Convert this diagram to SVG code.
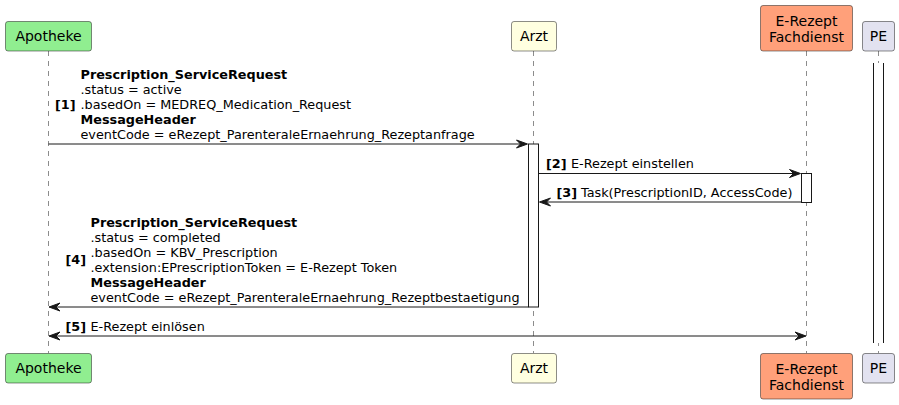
<svg xmlns="http://www.w3.org/2000/svg" width="899" height="405" viewBox="0 0 899 405">
<style>
.p{stroke:#181818;stroke-width:0.5}
.pt{font-family:"DejaVu Sans",sans-serif;font-size:14px;fill:#000;text-anchor:middle}
.t{font-family:"DejaVu Sans",sans-serif;font-size:12.8px;fill:#000}
.b{font-weight:bold}
.life{stroke:#181818;stroke-width:0.5;stroke-dasharray:5,5;fill:none}
.msg{stroke:#181818;stroke-width:1;fill:none}
.act{fill:#FFFFFF;stroke:#181818;stroke-width:1}
.ah{fill:#181818;stroke:#181818;stroke-width:1}
</style>
<rect width="899" height="405" fill="#FFFFFF"/>
<g id="lifelines">
<line class="life" x1="48.5" y1="51" x2="48.5" y2="353"/>
<line class="life" x1="533.5" y1="51" x2="533.5" y2="353"/>
<line class="life" x1="806.5" y1="51" x2="806.5" y2="353"/>
<line class="life" x1="878.5" y1="51" x2="878.5" y2="353"/>
</g>
<g id="Apotheke">
<rect class="p" x="5.5" y="21.5" width="86" height="29.5" rx="2.5" fill="#90EE90"/>
<text class="pt" x="48.5" y="41">Apotheke</text>
<rect class="p" x="5.5" y="353.5" width="86" height="29.5" rx="2.5" fill="#90EE90"/>
<text class="pt" x="48.5" y="373">Apotheke</text>
</g>
<g id="Arzt">
<rect class="p" x="511.5" y="21.5" width="45" height="29.5" rx="2.5" fill="#FFFFE0"/>
<text class="pt" x="534" y="41">Arzt</text>
<rect class="p" x="511.5" y="353.5" width="45" height="29.5" rx="2.5" fill="#FFFFE0"/>
<text class="pt" x="534" y="373">Arzt</text>
</g>
<g id="Fachdienst">
<rect class="p" x="760.5" y="5.5" width="92" height="45.5" rx="2.5" fill="#FFA07A"/>
<text class="pt" x="806.5" y="25.5">E-Rezept</text>
<text class="pt" x="806.5" y="41.5">Fachdienst</text>
<rect class="p" x="760.5" y="353.5" width="92" height="45.5" rx="2.5" fill="#FFA07A"/>
<text class="pt" x="806.5" y="373.5">E-Rezept</text>
<text class="pt" x="806.5" y="389.5">Fachdienst</text>
</g>
<g id="PE">
<rect class="p" x="862.5" y="21.5" width="32" height="29.5" rx="2.5" fill="#E2E2F0"/>
<text class="pt" x="878.5" y="41">PE</text>
<rect class="p" x="862.5" y="353.5" width="32" height="29.5" rx="2.5" fill="#E2E2F0"/>
<text class="pt" x="878.5" y="373">PE</text>
<rect x="873.5" y="63" width="10" height="280" fill="#FFFFFF"/>
<line class="msg" x1="873.5" y1="63" x2="873.5" y2="343"/>
<line class="msg" x1="883.5" y1="63" x2="883.5" y2="343"/>
</g>
<g id="activations">
<rect class="act" x="528.5" y="144" width="10" height="163"/>
<rect class="act" x="801.5" y="173.5" width="10" height="29"/>
</g>
<g id="connectors">
<line class="msg" x1="48.5" y1="144" x2="526" y2="144"/>
<polygon class="ah" points="516.5,140 527.5,144 516.5,148 520.5,144"/>
<line class="msg" x1="538.5" y1="173.5" x2="799" y2="173.5"/>
<polygon class="ah" points="789.5,169.5 800.5,173.5 789.5,177.5 793.5,173.5"/>
<line class="msg" x1="542" y1="202" x2="801.5" y2="202"/>
<polygon class="ah" points="550.5,198 539.5,202 550.5,206 546.5,202"/>
<line class="msg" x1="51" y1="307" x2="528.5" y2="307"/>
<polygon class="ah" points="60,303 49,307 60,311 56,307"/>
<line class="msg" x1="51" y1="336" x2="804" y2="336"/>
<polygon class="ah" points="60,332 49,336 60,340 56,336"/>
<polygon class="ah" points="795,332 806,336 795,340 799,336"/>
</g>
<g id="labels">
<text class="t b" x="55" y="109">[1]</text>
<text class="t b" x="80.5" y="79">Prescription_ServiceRequest</text>
<text class="t" x="80.5" y="94">.status = active</text>
<text class="t" x="80.5" y="109">.basedOn = MEDREQ_Medication_Request</text>
<text class="t b" x="80.5" y="124">MessageHeader</text>
<text class="t" x="80.5" y="139">eventCode = eRezept_ParenteraleErnaehrung_Rezeptanfrage</text>
<text class="t b" x="546" y="168">[2]</text>
<text class="t" x="571" y="168">E-Rezept einstellen</text>
<text class="t b" x="556.5" y="197">[3]</text>
<text class="t" x="581" y="197">Task(PrescriptionID, AccessCode)</text>
<text class="t b" x="65.5" y="264">[4]</text>
<text class="t b" x="90.5" y="226.5">Prescription_ServiceRequest</text>
<text class="t" x="90.5" y="241.5">.status = completed</text>
<text class="t" x="90.5" y="256.5">.basedOn = KBV_Prescription</text>
<text class="t" x="90.5" y="271.5">.extension:EPrescriptionToken = E-Rezept Token</text>
<text class="t b" x="90.5" y="286.5">MessageHeader</text>
<text class="t" x="90.5" y="301.5">eventCode = eRezept_ParenteraleErnaehrung_Rezeptbestaetigung</text>
<text class="t b" x="65.5" y="331">[5]</text>
<text class="t" x="90.5" y="331">E-Rezept einlösen</text>
</g>
</svg>
